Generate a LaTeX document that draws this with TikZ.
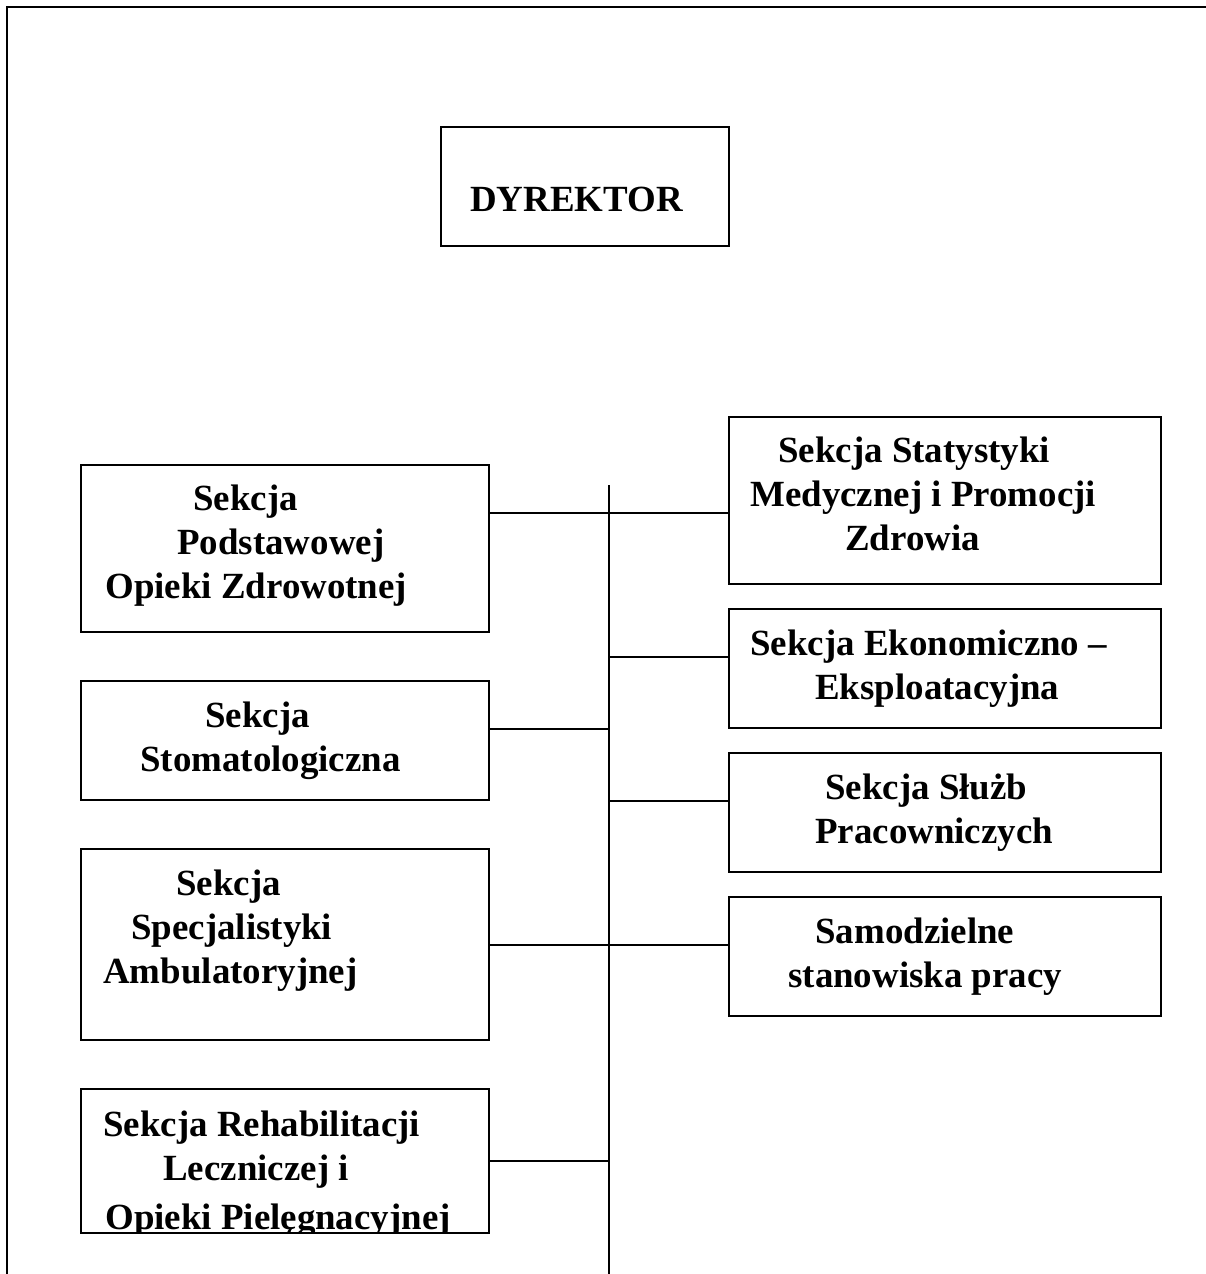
\documentclass[tikz,border=0pt]{standalone}
\usepackage{fontspec}
\setmainfont{Liberation Serif}
\usetikzlibrary{fit}
\tikzstyle{unit}=[draw, rectangle, inner sep=0pt, line width=1.1pt]
\tikzstyle{lbl}=[anchor=base west, inner sep=0pt, font=\fontsize{21}{25}\selectfont\bfseries]
\tikzstyle{link}=[draw, line width=1.1pt]

\begin{document}
\begin{tikzpicture}[x=0.02cm, y=-0.02cm]
    \useasboundingbox (0,0) rectangle (1206,1274);
    % page frame
    \draw[line width=1.5pt] (7,1274) -- (7,7) -- (1206,7);

    % First the boxes
    \foreach \xa/\ya/\xb/\yb/\name in {441/127/729/246/dyr, 81/465/489/632/podst, 81/681/489/800/stom,
        81/849/489/1040/spec, 81/1089/489/1233/rehab, 729/417/1161/584/stat, 729/609/1161/728/ekon,
        729/753/1161/872/sluz, 729/897/1161/1016/samo}
            \node[unit, fit={(\xa,\ya) (\xb,\yb)}] (\name) {};

    % then the texts, line by line
    \foreach \x/\y/\txt [count=\i] in {470/211/DYREKTOR,
        193/510/Sekcja, 177/554/Podstawowej, 105/598/Opieki Zdrowotnej,
        205/727/Sekcja, 140/771/Stomatologiczna,
        176/895/Sekcja, 131/939/Specjalistyki, 103/983/Ambulatoryjnej,
        103/1136/Sekcja Rehabilitacji, 163/1180/Leczniczej i,
        778/462/Sekcja Statystyki, 750/506/Medycznej i Promocji, 845/550/Zdrowia,
        750/655/Sekcja Ekonomiczno –, 815/699/Eksploatacyjna,
        825/799/Sekcja Służb, 815/843/Pracowniczych,
        815/943/Samodzielne, 788/987/stanowiska pracy}
            \node[lbl] (t\i) at (\x,\y) {\txt};
    \begin{scope}
        \clip (81,1089) rectangle (489,1232);
        \node[lbl] (t21) at (105,1229) {Opieki Pielęgnacyjnej};
    \end{scope}

    % the trunk and its branches
    \coordinate (top) at (609,485);
    \coordinate (bot) at (609,1274);
    \draw[link] (top) -- (bot);
    \foreach \y/\n in {513/1, 657/2, 729/3, 801/4, 945/5, 1161/6}
        \coordinate (j\n) at (609,\y);
    \draw[link] (j1 -| podst.east) -- (j1 -| stat.west);
    \draw[link] (j2) -- (j2 -| ekon.west);
    \draw[link] (j3 -| stom.east) -- (j3);
    \draw[link] (j4) -- (j4 -| sluz.west);
    \draw[link] (j5 -| spec.east) -- (j5 -| samo.west);
    \draw[link] (j6 -| rehab.east) -- (j6);
\end{tikzpicture}
\end{document}
